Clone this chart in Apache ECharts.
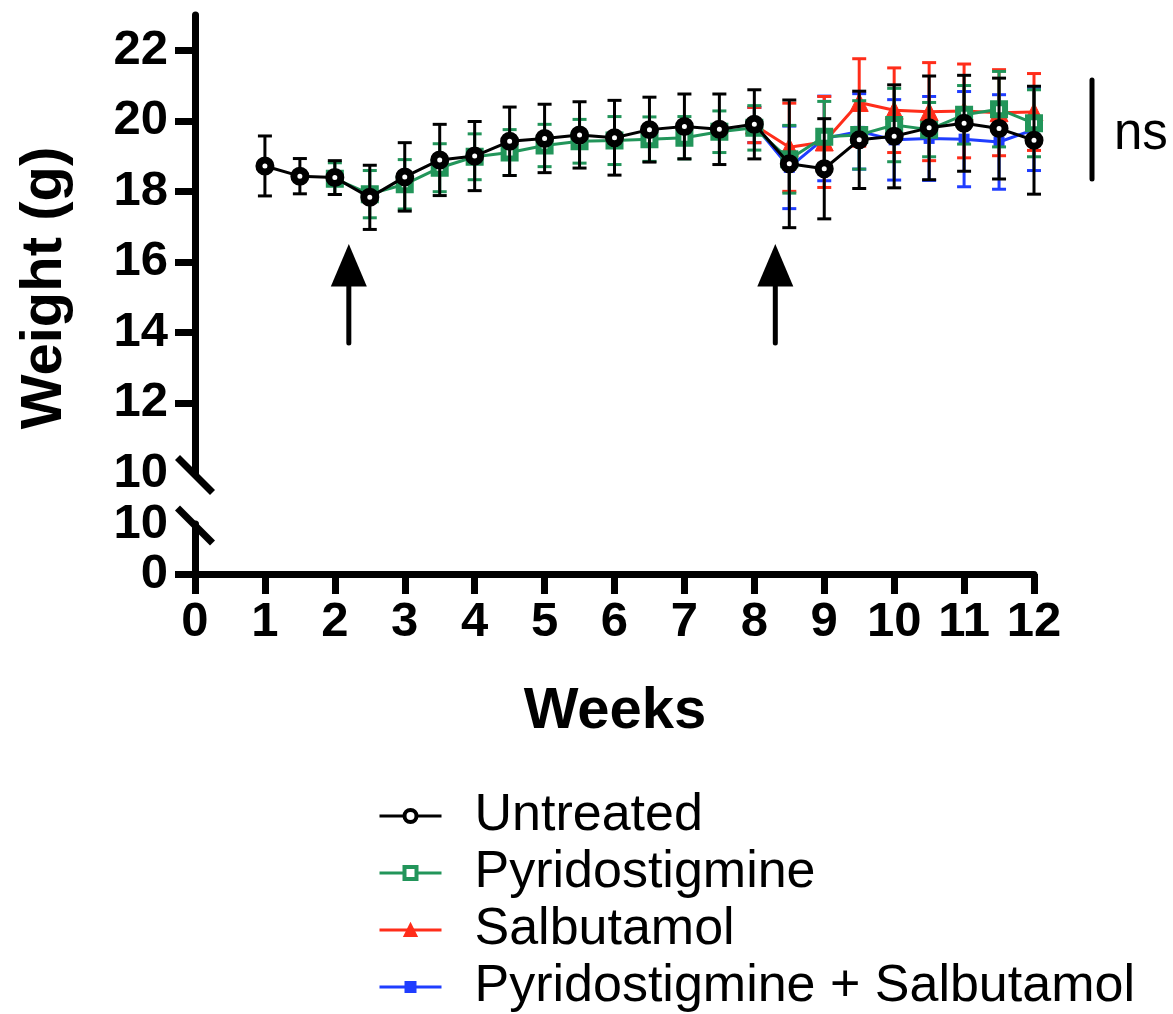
<!DOCTYPE html>
<html><head><meta charset="utf-8">
<script src="https://cdn.jsdelivr.net/npm/echarts@6/dist/echarts.min.js"></script>
<style>html,body{margin:0;padding:0;background:#fff}#c{width:1173px;height:1014px}</style>
</head><body><div id="c"></div>
<script>
// ---------- data ----------
const untreatedWeeks = [1,1.5,2,2.5,3,3.5,4,4.5,5,5.5,6,6.5,7,7.5,8,8.5,9,9.5,10,10.5,11,11.5,12];
const untreatedMean  = [18.72,18.43,18.39,17.83,18.41,18.89,19.00,19.42,19.50,19.60,19.52,19.75,19.84,19.76,19.90,18.78,18.64,19.46,19.56,19.80,19.93,19.78,19.45];
const untreatedSem   = [0.85,0.50,0.48,0.91,0.97,1.01,0.98,0.97,0.97,0.94,1.06,0.92,0.92,1.00,0.98,1.81,1.42,1.38,1.46,1.47,1.36,1.43,1.53];

const pyrWeeks = [2,2.5,3,3.5,4,4.5,5,5.5,6,6.5,7,7.5,8,8.5,9,9.5,10,10.5,11,11.5,12];
const pyrMean  = [18.36,17.92,18.20,18.67,18.98,19.10,19.30,19.42,19.44,19.48,19.52,19.69,19.80,18.91,19.55,19.60,19.88,19.75,20.17,20.33,19.93];
const pyrSem   = [0.45,0.67,0.70,0.68,0.65,0.65,0.60,0.62,0.68,0.63,0.60,0.59,0.63,0.96,1.00,0.97,1.04,0.77,0.83,1.07,0.95];

const salWeeks = [8,8.5,9,9.5,10,10.5,11,11.5,12];
const salMean  = [19.88,19.25,19.40,20.52,20.30,20.26,20.28,20.23,20.25];
const salSem   = [0.50,1.25,1.29,1.24,1.20,1.39,1.33,1.22,1.09];

const comboWeeks = [8,8.5,9,9.5,10,10.5,11,11.5,12];
const comboMean  = [19.88,18.68,19.50,19.70,19.46,19.50,19.48,19.40,19.75];
const comboSem   = [0.50,1.17,1.20,1.07,1.14,1.19,1.35,1.34,1.16];

const seriesNames = ['Untreated','Pyridostigmine','Salbutamol','Pyridostigmine + Salbutamol'];
const upperTickValues  = [12,14,16,18,20,22];
const upperLabelValues = [10,12,14,16,18,20,22];
const lowerTickValues  = [0];
const lowerLabelValues = [0,10];
const arrowWeeks = [2.2, 8.3];
const nsLabel = 'ns';
const xTitle = 'Weeks';
const yTitle = 'Weight (g)';

// ---------- styling ----------
const FONT = '"Liberation Sans", Arial, Helvetica, sans-serif';
const BLACK = '#000000', GREEN = '#22955A', RED = '#FF2D1A', BLUE = '#1F3DFF';

function pairs(w, m){ return w.map((x,i)=>[x, m[i]]); }
function errData(w, m, s){ return w.map((x,i)=>[x, m[i]-s[i], m[i]+s[i]]); }
function errRender(color){
  return function(params, api){
    const x = api.value(0);
    const pLo = api.coord([x, api.value(1)]);
    const pHi = api.coord([x, api.value(2)]);
    const hw = 7;
    const st = {stroke: color, lineWidth: 3};
    return {type:'group', children:[
      {type:'line', shape:{x1:pLo[0], y1:pLo[1], x2:pHi[0], y2:pHi[1]}, style:st},
      {type:'line', shape:{x1:pLo[0]-hw, y1:pLo[1], x2:pLo[0]+hw, y2:pLo[1]}, style:st},
      {type:'line', shape:{x1:pHi[0]-hw, y1:pHi[1], x2:pHi[0]+hw, y2:pHi[1]}, style:st}
    ]};
  };
}
function errSeries(name, color, w, m, s, z){
  return {type:'custom', name: name + ' SEM', xAxisIndex:0, yAxisIndex:0, z:z,
    renderItem: errRender(color), data: errData(w,m,s), encode:{x:0, y:[1,2]}, silent:true};
}
function lineSeries(name, color, w, m, symbol, size, itemStyle, z){
  return {type:'line', name:name, xAxisIndex:0, yAxisIndex:0, z:z, data:pairs(w,m),
    symbol:symbol, symbolSize:size, showAllSymbol:true,
    lineStyle:{color:color, width:3}, itemStyle:itemStyle, animation:false, silent:true};
}

const axisLineStyle = {color: BLACK, width: 7};
const labelStyle = {color: BLACK, fontSize: 49, fontWeight: 'bold', fontFamily: FONT};

const chart = echarts.init(document.getElementById('c'), null, {renderer:'canvas'});
chart.setOption({
  animation:false,
  backgroundColor:'#fff',
  grid:[
    {left:195, right:139, top:15, height:458.5},
    {left:195, right:139, top:524, height:50}
  ],
  xAxis:[
    {gridIndex:0, type:'value', min:0, max:12, show:false},
    {gridIndex:1, type:'value', min:0, max:12, interval:1,
      axisLine:{lineStyle:axisLineStyle}, axisTick:{length:20, lineStyle:{color:BLACK, width:7}},
      axisLabel:Object.assign({margin:24}, labelStyle), splitLine:{show:false}}
  ],
  yAxis:[
    {gridIndex:0, type:'value', min:10, max:23,
      axisLine:{show:true, lineStyle:axisLineStyle},
      axisTick:{show:true, length:20, customValues:upperTickValues, lineStyle:{color:BLACK, width:7}},
      axisLabel:Object.assign({margin:27, customValues:upperLabelValues}, labelStyle),
      splitLine:{show:false}},
    {gridIndex:1, type:'value', min:0, max:10,
      axisLine:{show:true, lineStyle:axisLineStyle},
      axisTick:{show:true, length:20, customValues:lowerTickValues, lineStyle:{color:BLACK, width:7}},
      axisLabel:Object.assign({margin:27, customValues:lowerLabelValues}, labelStyle),
      splitLine:{show:false}}
  ],
  legend:{
    data: [
      {name:seriesNames[0], itemStyle:{color:'#fff', borderColor:BLACK, borderWidth:4}},
      {name:seriesNames[1], itemStyle:{color:'#fff', borderColor:GREEN, borderWidth:4}},
      {name:seriesNames[2]},
      {name:seriesNames[3]}
    ],
    orient:'vertical', left:378, top:790, height:300, padding:0,
    itemWidth:62, itemHeight:15, itemGap:5, selectedMode:false,
    lineStyle:{width:3},
    textStyle:{fontSize:52, lineHeight:52, color:BLACK, fontFamily:FONT, padding:[0,0,0,28]}
  },
  series:[
    errSeries(seriesNames[3], BLUE, comboWeeks, comboMean, comboSem, 2),
    lineSeries(seriesNames[3], BLUE, comboWeeks, comboMean, 'rect', 11, {color:BLUE}, 3),
    errSeries(seriesNames[2], RED, salWeeks, salMean, salSem, 4),
    lineSeries(seriesNames[2], RED, salWeeks, salMean, 'triangle', 18, {color:RED, borderColor:RED, borderWidth:1}, 5),
    errSeries(seriesNames[1], GREEN, pyrWeeks, pyrMean, pyrSem, 6),
    lineSeries(seriesNames[1], GREEN, pyrWeeks, pyrMean, 'rect', 12, {color:'#fff', borderColor:GREEN, borderWidth:6}, 7),
    errSeries(seriesNames[0], BLACK, untreatedWeeks, untreatedMean, untreatedSem, 8),
    lineSeries(seriesNames[0], BLACK, untreatedWeeks, untreatedMean, 'circle', 12, {color:'#fff', borderColor:BLACK, borderWidth:7}, 9)
  ]
});

// ---------- annotations (positioned through the axes) ----------
const U = {xAxisIndex:0, yAxisIndex:0};
const L = {xAxisIndex:1, yAxisIndex:1};
const g = [];
const upperEnd = chart.convertToPixel(U, [0, 10]);
const lowerEnd = chart.convertToPixel(L, [0, 10]);
[upperEnd, lowerEnd].forEach(p=>{
  g.push({type:'line', shape:{x1:p[0]-17.5, y1:p[1]-16, x2:p[0]+17.5, y2:p[1]+19}, style:{stroke:BLACK, lineWidth:7}, z:20});
});
arrowWeeks.forEach(w=>{
  const tip = chart.convertToPixel(U, [w, 16.51]);
  const base = chart.convertToPixel(U, [w, 15.30]);
  const bot = chart.convertToPixel(U, [w, 13.70]);
  g.push({type:'polygon', shape:{points:[[tip[0],tip[1]],[tip[0]-18,base[1]],[tip[0]+18,base[1]]]}, style:{fill:BLACK}, z:20});
  g.push({type:'line', shape:{x1:base[0], y1:base[1]-2, x2:bot[0], y2:bot[1]}, style:{stroke:BLACK, lineWidth:5, lineCap:'round'}, z:20});
});
const nsTop = chart.convertToPixel(U, [12, 21.16]);
const nsBot = chart.convertToPixel(U, [12, 18.35]);
g.push({type:'line', shape:{x1:1092, y1:nsTop[1], x2:1092, y2:nsBot[1]}, style:{stroke:BLACK, lineWidth:5, lineCap:'round'}, z:20});
g.push({type:'text', left:1114, top:(nsTop[1]+nsBot[1])/2 - 20, style:{text:nsLabel, fontSize:51, fontFamily:FONT, fill:BLACK}, z:20});
g.push({type:'text', x:45, y:288, rotation:Math.PI/2,
  style:{text:yTitle, fontSize:58, fontWeight:'bold', fontFamily:FONT, fill:BLACK, align:'center', verticalAlign:'middle'}, z:20});
g.push({type:'text', x:615, y:712,
  style:{text:xTitle, fontSize:58, fontWeight:'bold', fontFamily:FONT, fill:BLACK, align:'center', verticalAlign:'middle'}, z:20});
chart.setOption({graphic:g});
</script>
</body></html>
